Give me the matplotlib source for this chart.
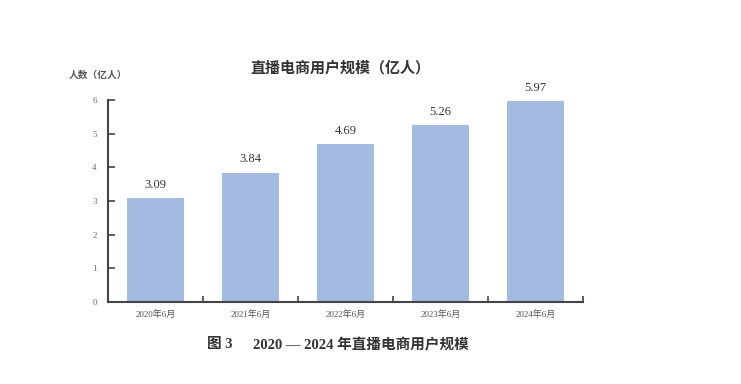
import matplotlib.pyplot as plt
import numpy as np

plt.rcParams['font.family'] = ['Liberation Serif', 'Noto Sans CJK SC', 'DejaVu Sans']

periods = ['2020年6月', '2021年6月', '2022年6月', '2023年6月', '2024年6月']
users = [3.09, 3.84, 4.69, 5.26, 5.97]

fig = plt.figure(figsize=(7.41, 3.84), dpi=100)
ax = fig.add_axes([0.1457, 0.2135, 0.641, 0.526])

x = np.arange(len(periods))
ax.bar(x, users, width=0.6, color='#a3bbe0')
for xi, v in zip(x, users):
    ax.text(xi, v + 0.22, f'{v:.2f}', ha='center', va='bottom', fontsize=9, color='#333333')

ax.set_xlim(-0.5, len(periods) - 0.5)
ax.set_ylim(0, 6)
ax.set_yticks(range(7))
ax.tick_params(axis='y', direction='in', length=5, width=1.2, color='#444444',
               labelsize=6.5, labelcolor='#666666', pad=8)

# x ticks sit at category boundaries, labels centred below bars
ax.set_xticks(np.arange(len(periods)) + 0.5)
ax.set_xticklabels([])
ax.set_xticks(x, minor=True)
ax.set_xticklabels(periods, minor=True)
ax.tick_params(axis='x', which='major', direction='in', length=4, width=1.2, color='#444444')
ax.tick_params(axis='x', which='minor', length=0, labelsize=6.5, labelcolor='#555555', pad=6)

for s in ['top', 'right']:
    ax.spines[s].set_visible(False)
for s in ['left', 'bottom']:
    ax.spines[s].set_color('#444444')
    ax.spines[s].set_linewidth(1.5)

fig.text(0.460, 0.823, '直播电商用户规模（亿人）', ha='center', va='center',
         fontsize=10.8, fontweight='bold', color='#333333')
fig.text(0.093, 0.805, '人数（亿人）', ha='left', va='center',
         fontsize=7, fontweight='bold', color='#555555')
fig.text(0.28, 0.102, '图 3', ha='left', va='center', fontsize=10.5, fontweight='bold', color='#333333')
fig.text(0.341, 0.102, '2020 — 2024 年直播电商用户规模', ha='left', va='center',
         fontsize=10.5, fontweight='bold', color='#333333')

fig.savefig('out.png', dpi=100)
